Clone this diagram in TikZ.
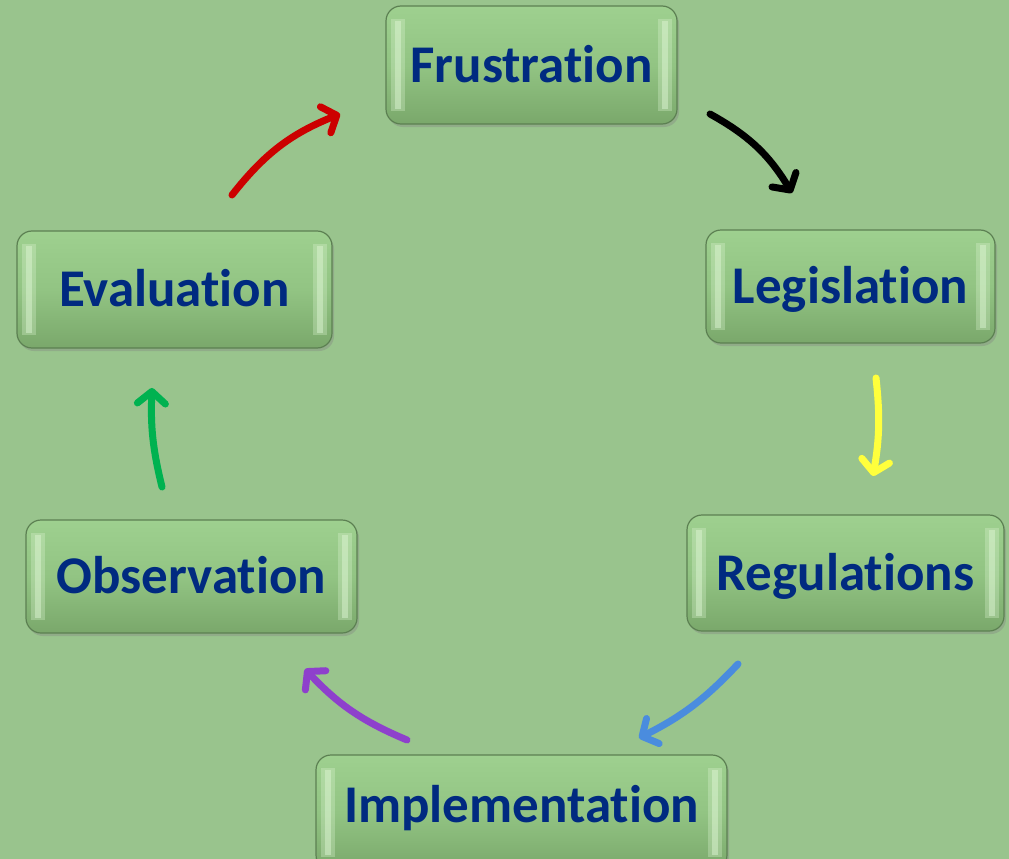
\documentclass[tikz,border=0pt]{standalone}
\usepackage{fontspec}
\setmainfont{Carlito}[Ligatures=CommonOff]
\usetikzlibrary{arrows.meta,shadows,shadings}
\definecolor{bgc}{RGB}{153,196,141}
\definecolor{boxtop}{RGB}{158,208,143}
\definecolor{boxmid}{RGB}{146,196,131}
\definecolor{boxbot}{RGB}{122,168,107}
\definecolor{boxborder}{RGB}{92,128,82}
\definecolor{boxhi}{RGB}{225,248,215}
\definecolor{txt}{RGB}{0,42,128}
\definecolor{ared}{RGB}{204,0,0}
\definecolor{ayellow}{RGB}{255,255,60}
\definecolor{ablue}{RGB}{74,140,222}
\definecolor{apurple}{RGB}{142,64,204}
\definecolor{agreen}{RGB}{0,178,80}
\tikzset{
  stagebox/.style={draw=boxborder, line width=1.2pt, rounded corners=15pt,
    top color=boxtop, bottom color=boxbot, middle color=boxmid,
    drop shadow={shadow xshift=2pt, shadow yshift=-3pt, opacity=0.35},
    text=txt, font=\fontsize{53}{60}\selectfont\bfseries,
    text height=34pt, text depth=0pt, inner sep=0pt,
    path picture={
      \fill[sharp corners, boxhi, opacity=0.3]
        ([xshift=5pt,yshift=-13pt]path picture bounding box.north west) rectangle ([xshift=19pt,yshift=13pt]path picture bounding box.south west);
      \fill[sharp corners, boxhi, opacity=0.45]
        ([xshift=9pt,yshift=-15pt]path picture bounding box.north west) rectangle ([xshift=15pt,yshift=15pt]path picture bounding box.south west);
      \fill[sharp corners, boxhi, opacity=0.3]
        ([xshift=-19pt,yshift=-13pt]path picture bounding box.north east) rectangle ([xshift=-5pt,yshift=13pt]path picture bounding box.south east);
      \fill[sharp corners, boxhi, opacity=0.45]
        ([xshift=-15pt,yshift=-15pt]path picture bounding box.north east) rectangle ([xshift=-9pt,yshift=15pt]path picture bounding box.south east);
    }},
  flow/.style={line width=7pt, line cap=round, bend left=18,
    -{Straight Barb[length=12pt,width=28pt,line cap=round,line join=round]}}
}
\begin{document}
\begin{tikzpicture}[x=1pt,y=-1pt]
\fill[bgc] (0,0) rectangle (1009,859);
\useasboundingbox (0,0) rectangle (1009,859);

\node[stagebox, minimum width=291pt, minimum height=118pt] (frust) at (531.5,65) {Frustration};
\node[stagebox, minimum width=289pt, minimum height=113pt] (legis) at (850.5,286.5) {Legislation};
\node[stagebox, minimum width=317pt, minimum height=116pt] (regul) at (845.5,573) {Regulations};
\node[stagebox, minimum width=411pt, minimum height=115pt, text depth=15pt] (implem) at (521.5,812.5) {Implementation};
\node[stagebox, minimum width=331pt, minimum height=113pt] (obser) at (191.5,576.5) {Observation};
\node[stagebox, minimum width=315pt, minimum height=117pt] (evalu) at (174.5,289.5) {Evaluation};

\coordinate (r1) at (232,195); \coordinate (r2) at (340,114);
\coordinate (k1) at (710,114); \coordinate (k2) at (792,193);
\coordinate (y1) at (876,378); \coordinate (y2) at (873,476);
\coordinate (b1) at (738,664); \coordinate (b2) at (639,738);
\coordinate (p1) at (407,740); \coordinate (p2) at (305,669);
\coordinate (g1) at (162,487); \coordinate (g2) at (152,388);

\draw[flow, ared, bend left=15] (r1) to (r2);
\draw[flow, black, bend left=15] (k1) to (k2);
\draw[flow, ayellow, bend left=8] (y1) to (y2);
\draw[flow, ablue, bend left=10] (b1) to (b2);
\draw[flow, apurple, bend left=12] (p1) to (p2);
\draw[flow, agreen, bend left=8] (g1) to (g2);
\end{tikzpicture}
\end{document}
